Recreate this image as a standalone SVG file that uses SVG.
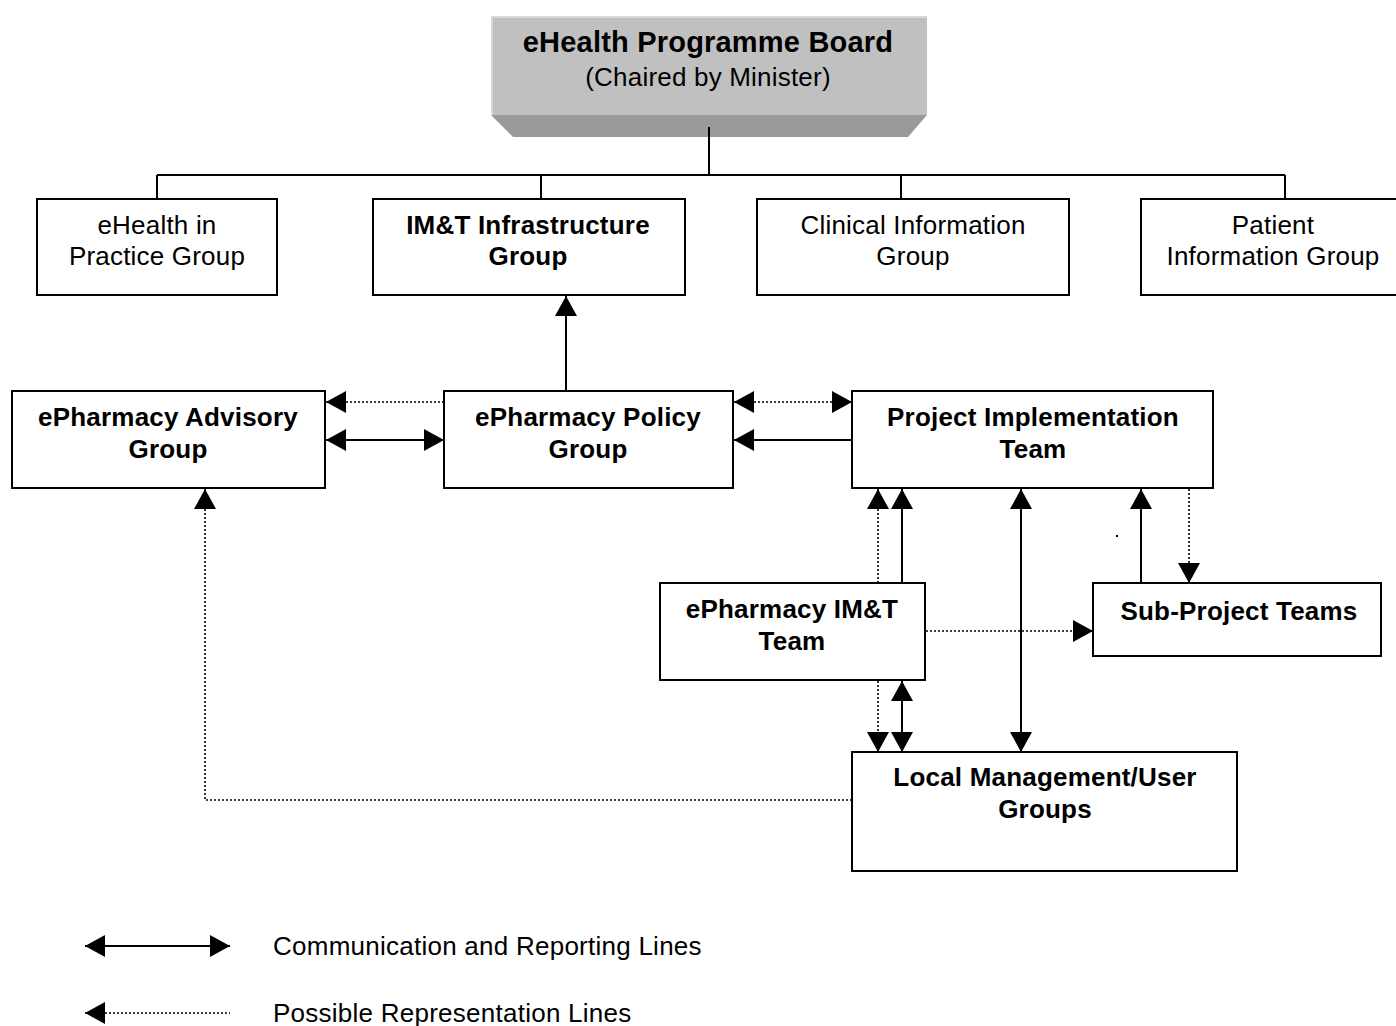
<svg xmlns="http://www.w3.org/2000/svg" width="1396" height="1026" viewBox="0 0 1396 1026">
<defs>
<marker id="ah" markerUnits="userSpaceOnUse" markerWidth="20" markerHeight="22" refX="20" refY="11" orient="auto-start-reverse" viewBox="0 0 20 22">
<path d="M0,0 L20,11 L0,22 z" fill="#000"/>
</marker>
<style>
.box{fill:#fff;stroke:#000;stroke-width:2}
.t{font-family:"Liberation Sans",Arial,sans-serif;font-size:26px;fill:#000;text-anchor:middle;letter-spacing:0.2px}
.b{font-weight:bold}
.lg{font-family:"Liberation Sans",Arial,sans-serif;font-size:26px;fill:#000;letter-spacing:0.25px}
.s{stroke:#000;stroke-width:2;fill:none}
.d{stroke:#000;stroke-width:1.6;fill:none;stroke-dasharray:2 2}
</style>
</defs>
<rect width="1396" height="1026" fill="#fff"/>

<g id="board">
<polygon points="491,115 927,115 908,137 513,137" fill="#9a9a9a"/>
<rect x="491" y="16" width="436" height="99" fill="#c0c0c0"/>
<line x1="491" y1="17" x2="927" y2="17" stroke="#d9d9d9" stroke-width="2"/>
<line x1="492" y1="16" x2="492" y2="115" stroke="#d9d9d9" stroke-width="2"/>
<text class="t b" x="708" y="52" style="font-size:29px">eHealth Programme Board</text>
<text class="t" x="708" y="86">(Chaired by Minister)</text>
</g>

<g id="connectors">
<path class="s" d="M709,127 V175 M157,175 H1285 M157,175 V199 M541,175 V199 M901,175 V199 M1285,175 V199" stroke-width="1.8"/>
<line class="s" x1="566" y1="391" x2="566" y2="296" marker-end="url(#ah)"/>
<line class="d" x1="444" y1="402" x2="326" y2="402" marker-end="url(#ah)"/>
<line class="s" x1="326" y1="440" x2="444" y2="440" marker-start="url(#ah)" marker-end="url(#ah)"/>
<line class="d" x1="734" y1="402" x2="852" y2="402" marker-start="url(#ah)" marker-end="url(#ah)"/>
<line class="s" x1="852" y1="440" x2="734" y2="440" marker-end="url(#ah)"/>
<line class="d" x1="878" y1="583" x2="878" y2="489" marker-end="url(#ah)"/>
<line class="s" x1="902" y1="583" x2="902" y2="489" marker-end="url(#ah)"/>
<line class="s" x1="1021" y1="489" x2="1021" y2="752" marker-start="url(#ah)" marker-end="url(#ah)"/>
<line class="s" x1="1141" y1="583" x2="1141" y2="489" marker-end="url(#ah)"/>
<line class="d" x1="1189" y1="489" x2="1189" y2="583" marker-end="url(#ah)"/>
<line class="d" x1="926" y1="631" x2="1093" y2="631" marker-end="url(#ah)"/>
<line class="d" x1="878" y1="681" x2="878" y2="752" marker-end="url(#ah)"/>
<line class="s" x1="902" y1="681" x2="902" y2="752" marker-start="url(#ah)" marker-end="url(#ah)"/>
<path class="d" d="M852,800 H205 V489" marker-end="url(#ah)"/>
<rect x="1116" y="535" width="2" height="2" fill="#000"/>
</g>

<g id="ehealth-practice">
<rect class="box" x="37" y="199" width="240" height="96"/>
<text class="t" x="157" y="234">eHealth in</text>
<text class="t" x="157" y="265">Practice Group</text>
</g>
<g id="imt-infrastructure">
<rect class="box" x="373" y="199" width="312" height="96"/>
<text class="t b" x="528" y="234">IM&amp;T Infrastructure</text>
<text class="t b" x="528" y="265">Group</text>
</g>
<g id="clinical-info">
<rect class="box" x="757" y="199" width="312" height="96"/>
<text class="t" x="913" y="234">Clinical Information</text>
<text class="t" x="913" y="265">Group</text>
</g>
<g id="patient-info">
<rect class="box" x="1141" y="199" width="260" height="96"/>
<text class="t" x="1273" y="234">Patient</text>
<text class="t" x="1273" y="265">Information Group</text>
</g>

<g id="advisory">
<rect class="box" x="12" y="391" width="313" height="97"/>
<text class="t b" x="168" y="426">ePharmacy Advisory</text>
<text class="t b" x="168" y="458">Group</text>
</g>
<g id="policy">
<rect class="box" x="444" y="391" width="289" height="97"/>
<text class="t b" x="588" y="426">ePharmacy Policy</text>
<text class="t b" x="588" y="458">Group</text>
</g>
<g id="project">
<rect class="box" x="852" y="391" width="361" height="97"/>
<text class="t b" x="1033" y="426">Project Implementation</text>
<text class="t b" x="1033" y="458">Team</text>
</g>
<g id="imt-team">
<rect class="box" x="660" y="583" width="265" height="97"/>
<text class="t b" x="792" y="618">ePharmacy IM&amp;T</text>
<text class="t b" x="792" y="650">Team</text>
</g>
<g id="sub-project">
<rect class="box" x="1093" y="583" width="288" height="73"/>
<text class="t b" x="1239" y="620">Sub-Project Teams</text>
</g>
<g id="local">
<rect class="box" x="852" y="752" width="385" height="119"/>
<text class="t b" x="1045" y="786">Local Management/User</text>
<text class="t b" x="1045" y="818">Groups</text>
</g>

<g id="legend">
<line class="s" x1="85" y1="946" x2="230" y2="946" marker-start="url(#ah)" marker-end="url(#ah)"/>
<text class="lg" x="273" y="955">Communication and Reporting Lines</text>
<line class="d" x1="85" y1="1013" x2="230" y2="1013" stroke-width="1.2" marker-start="url(#ah)"/>
<text class="lg" x="273" y="1022">Possible Representation Lines</text>
</g>
</svg>
